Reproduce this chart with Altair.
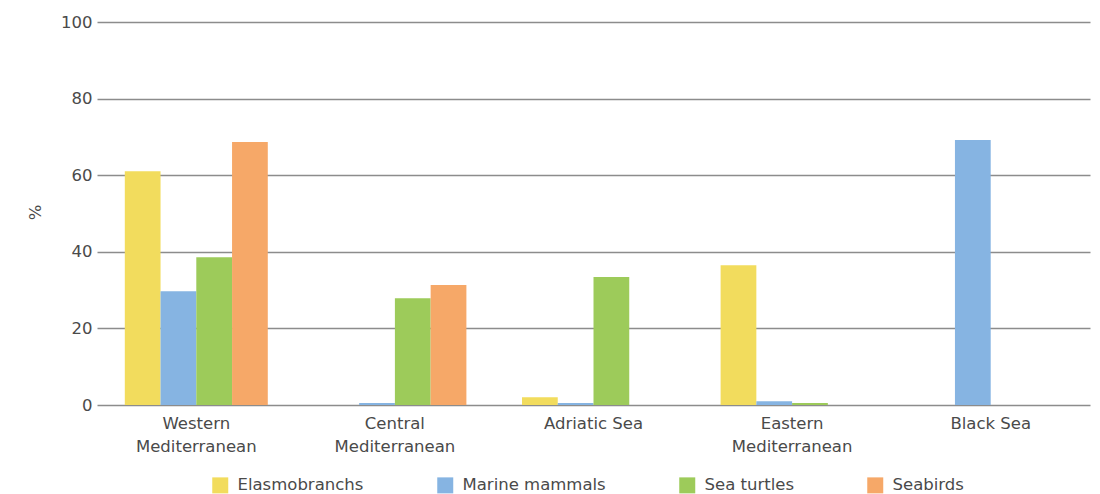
import altair as alt
import pandas as pd

regions = ["Western Mediterranean", "Central Mediterranean", "Adriatic Sea",
           "Eastern Mediterranean", "Black Sea"]
groups = ["Elasmobranchs", "Marine mammals", "Sea turtles", "Seabirds"]

elasmobranchs = [61.0, 0.0, 2.0, 36.5, 0.0]
marine_mammals = [29.7, 0.5, 0.5, 1.0, 69.2]
sea_turtles = [38.6, 27.9, 33.4, 0.5, 0.0]
seabirds = [68.7, 31.3, 0.0, 0.0, 0.0]

colors = ["#F2DC5D", "#86B4E2", "#9DCB5A", "#F6A868"]

series = [elasmobranchs, marine_mammals, sea_turtles, seabirds]
rows = []
for g, vals in zip(groups, series):
    for r, v in zip(regions, vals):
        rows.append({"region": r, "group": g, "value": v})
df = pd.DataFrame(rows)

FONT = "DejaVu Sans"
FS = 16.5
TXT = "#4a4a4a"

label_expr = ("(datum.label == 'Adriatic Sea' || datum.label == 'Black Sea') ? "
              "datum.label : split(datum.label, ' ')")

chart = alt.Chart(df).mark_bar().encode(
    x=alt.X("region:N", sort=regions,
            scale=alt.Scale(paddingInner=0.28, paddingOuter=0.14),
            axis=alt.Axis(title=None, labelAngle=0, labelExpr=label_expr,
                          labelFont=FONT, labelFontSize=FS, labelColor=TXT,
                          labelPadding=10, labelLineHeight=23,
                          ticks=False, domain=False, grid=False,
                          labelBaseline="top")),
    xOffset=alt.XOffset("group:N", sort=groups),
    y=alt.Y("value:Q", scale=alt.Scale(domain=[0, 100]),
            axis=alt.Axis(title="%", values=[0, 20, 40, 60, 80, 100],
                          labelFont=FONT, labelFontSize=FS, labelColor=TXT,
                          labelPadding=5, ticks=False, domain=False,
                          titleFont=FONT, titleFontSize=FS, titleColor=TXT,
                          titleFontWeight="normal", titleAngle=-90,
                          titleX=-54, titleY=190,
                          gridColor="#8c8c8c", gridWidth=1.5)),
    color=alt.Color("group:N", sort=groups,
                    scale=alt.Scale(domain=groups, range=colors),
                    legend=alt.Legend(title=None, orient="none",
                                      direction="horizontal",
                                      legendX=115, legendY=455,
                                      symbolType="square", symbolSize=256,
                                      symbolStrokeWidth=0, symbolOpacity=1,
                                      labelFont=FONT, labelFontSize=FS,
                                      labelColor=TXT, labelOffset=9,
                                      columnPadding=73)),
).properties(
    width=993,
    height=383,
    background="white",
    autosize=alt.AutoSizeParams(type="none"),
    padding={"left": 97, "top": 22, "right": 10, "bottom": 89},
).configure_view(stroke=None)

chart.save("out.html", embed_options={"renderer": "svg", "actions": False})
